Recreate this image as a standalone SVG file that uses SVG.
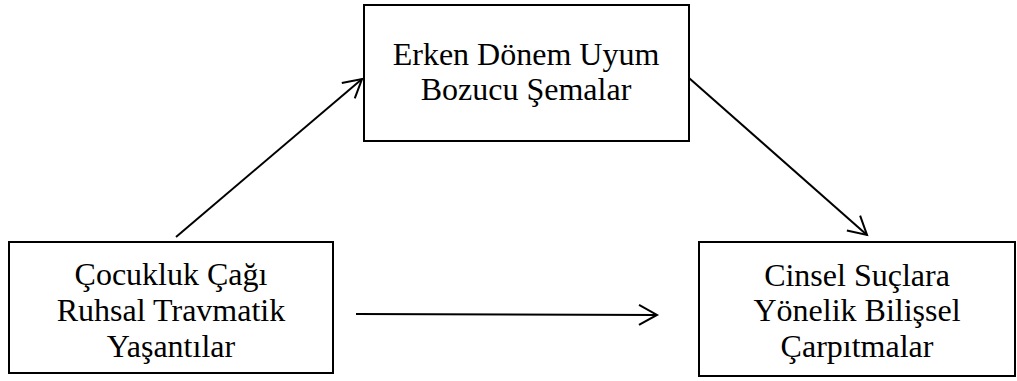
<svg xmlns="http://www.w3.org/2000/svg" width="1017" height="381" viewBox="0 0 1017 381">
<style>
.box{fill:#fff;stroke:#000;stroke-width:2}
.t{font-family:"Liberation Serif","Times New Roman",serif;font-size:32px;fill:#000;text-anchor:middle}
.c{stroke:#000;stroke-width:2;fill:none}
</style>
<defs>
<marker id="a" markerUnits="userSpaceOnUse" markerWidth="24" markerHeight="24" refX="20" refY="12" orient="auto">
<path d="M2,2 L20,12 L2,22" fill="none" stroke="#000" stroke-width="2"/>
</marker>
</defs>
<rect width="1017" height="381" fill="#fff"/>
<g id="n1">
<rect class="box" x="364" y="5" width="325" height="136"/>
<text class="t" x="526" y="65">Erken Dönem Uyum</text>
<text class="t" x="526" y="100">Bozucu Şemalar</text>
</g>
<g id="n2">
<rect class="box" x="9" y="242" width="324" height="131"/>
<text class="t" x="171" y="285">Çocukluk Çağı</text>
<text class="t" x="171" y="321">Ruhsal Travmatik</text>
<text class="t" x="171" y="357">Yaşantılar</text>
</g>
<g id="n3">
<rect class="box" x="699" y="242" width="316" height="134"/>
<text class="t" x="857" y="286">Cinsel Suçlara</text>
<text class="t" x="857" y="321">Yönelik Bilişsel</text>
<text class="t" x="857" y="357">Çarpıtmalar</text>
</g>
<g id="connectors">
<line class="c" x1="176" y1="237" x2="362" y2="79" marker-end="url(#a)"/>
<line class="c" x1="689" y1="78" x2="867" y2="235" marker-end="url(#a)"/>
<line class="c" x1="356" y1="314" x2="657" y2="315" marker-end="url(#a)"/>
</g>
</svg>
